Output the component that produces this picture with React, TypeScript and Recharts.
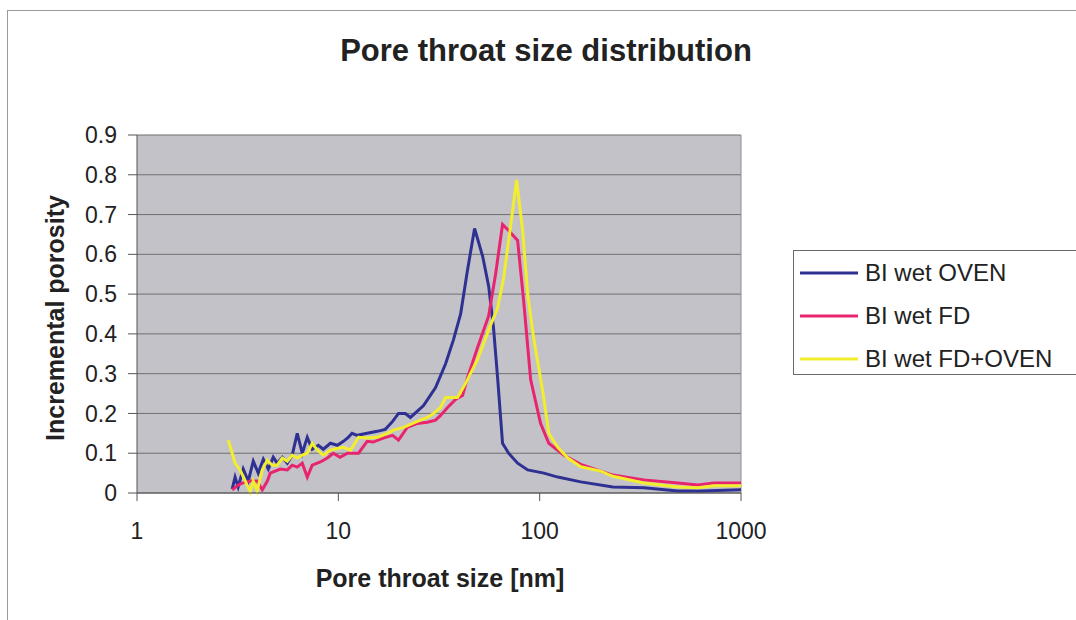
import { LineChart, Line, XAxis, YAxis, CartesianGrid, ReferenceLine } from 'recharts';

// pore throat size [nm] and incremental porosity, one pair of arrays per sample
const ovenSize = [
  2.97, 3.07, 3.18, 3.37, 3.57, 3.78, 4.0, 4.24, 4.49, 4.75, 4.97, 5.27, 5.58, 5.9, 6.25, 6.62, 7.01, 7.42,
  7.95, 8.42, 9.13, 9.89, 10.6, 11.2, 11.7, 12.4, 13.9, 15.6, 17.1, 18.6, 19.9, 21.5, 22.8, 26.5, 30.4,
  34.1, 37.3, 40.5, 43.8, 47.5, 52.1, 55.8, 59.0, 61.8, 65.4, 70.1, 77.7, 87.2, 105, 123, 160, 231, 329,
  486, 632, 1000,
];
const ovenPorosity = [
  0.01, 0.04, 0.015, 0.06, 0.03, 0.08, 0.05, 0.085, 0.06, 0.09, 0.075, 0.09, 0.075, 0.095, 0.15, 0.1, 0.14,
  0.11, 0.12, 0.11, 0.125, 0.12, 0.13, 0.14, 0.15, 0.145, 0.15, 0.155, 0.16, 0.18, 0.2, 0.2, 0.19, 0.22,
  0.265, 0.325, 0.385, 0.45, 0.56, 0.665, 0.595, 0.52, 0.415, 0.29, 0.125, 0.1, 0.075, 0.058, 0.05, 0.04,
  0.028, 0.015, 0.013, 0.005, 0.005, 0.008,
];

const fdSize = [
  2.97, 3.18, 3.33, 3.65, 3.95, 4.19, 4.44, 4.59, 5.15, 5.58, 5.9, 6.25, 6.62, 7.01, 7.42, 8.14, 8.82, 9.44,
  10.2, 11.1, 12.6, 13.9, 14.9, 16.7, 18.6, 19.9, 22.0, 24.7, 27.7, 30.4, 32.2, 34.9, 38.2, 41.4, 43.8,
  49.1, 55.8, 60.4, 65.4, 70.1, 77.7, 83.2, 90.2, 101, 111, 132, 160, 201, 231, 329, 486, 611, 734, 1000,
];
const fdPorosity = [
  0.008, 0.02, 0.025, 0.03, 0.03, 0.008, 0.03, 0.05, 0.06, 0.058, 0.07, 0.065, 0.075, 0.04, 0.07, 0.078,
  0.088, 0.1, 0.09, 0.1, 0.1, 0.13, 0.128, 0.138, 0.145, 0.133, 0.165, 0.175, 0.178, 0.183, 0.195, 0.215,
  0.235, 0.245, 0.29, 0.365, 0.445, 0.55, 0.675, 0.66, 0.635, 0.485, 0.285, 0.175, 0.125, 0.095, 0.072,
  0.055, 0.045, 0.033, 0.025, 0.02, 0.025, 0.025,
];

const fdOvenSize = [
  2.84, 2.97, 3.07, 3.25, 3.45, 3.65, 3.78, 3.95, 4.19, 4.44, 4.69, 4.97, 5.27, 5.58, 5.9, 6.25, 6.62, 7.01,
  7.42, 7.86, 8.42, 9.13, 9.89, 10.6, 11.5, 12.6, 13.9, 15.6, 17.5, 18.8, 21.1, 23.4, 25.6, 27.7, 29.7,
  32.2, 34.1, 39.1, 42.8, 49.1, 55.8, 61.8, 66.2, 71.7, 76.8, 82.3, 87.2, 93.3, 104, 111, 123, 138, 160,
  201, 231, 329, 486, 611, 734, 1000,
];
const fdOvenPorosity = [
  0.133, 0.1, 0.075, 0.058, 0.03, 0.003, 0.03, 0.005, 0.058, 0.083, 0.07, 0.07, 0.088, 0.08, 0.095, 0.088,
  0.095, 0.1, 0.125, 0.108, 0.095, 0.108, 0.112, 0.115, 0.108, 0.14, 0.138, 0.14, 0.15, 0.158, 0.165, 0.175,
  0.183, 0.19, 0.2, 0.215, 0.24, 0.24, 0.275, 0.335, 0.41, 0.465, 0.54, 0.67, 0.787, 0.66, 0.5, 0.39, 0.25,
  0.15, 0.115, 0.088, 0.066, 0.055, 0.042, 0.025, 0.015, 0.013, 0.018, 0.018,
];

const xTicks = [1, 10, 100, 1000];
const yTicks = [0, 0.1, 0.2, 0.3, 0.4, 0.5, 0.6, 0.7, 0.8, 0.9];

const zip = (xs: number[], ys: number[]) => xs.map((x, i) => ({ size: x, value: ys[i] }));

const series = [
  { name: 'BI wet OVEN', color: '#2f3192', data: zip(ovenSize, ovenPorosity) },
  { name: 'BI wet FD', color: '#e8246e', data: zip(fdSize, fdPorosity) },
  { name: 'BI wet FD+OVEN', color: '#f2ee2e', data: zip(fdOvenSize, fdOvenPorosity) },
];

const font = 'Arial, "Liberation Sans", sans-serif';

function ChartLegend() {
  return (
    <div
      style={{
        position: 'absolute', left: 793, top: 250, width: 300, height: 125,
        border: '1px solid #6a6a6a', background: '#fff', padding: '0 0 0 6px',
        fontFamily: font, fontSize: 24, color: '#222', boxSizing: 'border-box',
      }}
    >
      {series.map((s, i) => (
        <div
          key={s.name}
          style={{ position: 'absolute', left: 6, top: 22 + i * 43 - 14, display: 'flex', alignItems: 'center', height: 28 }}
        >
          <svg width={60} height={10} style={{ marginRight: 5 }}>
            <line x1={0} y1={5} x2={58} y2={5} stroke={s.color} strokeWidth={3} />
          </svg>
          <span style={{ whiteSpace: 'nowrap' }}>{s.name}</span>
        </div>
      ))}
    </div>
  );
}

export default function App() {
  return (
    <div style={{ position: 'absolute', left: 0, top: 0, width: 1076, height: 620, background: '#fff', overflow: 'hidden' }}>
      <div style={{ position: 'absolute', left: 7, top: 10, width: 1200, height: 800, border: '1px solid #9a9a9a' }} />
      <div
        style={{
          position: 'absolute', left: 0, width: 1092, top: 33, textAlign: 'center',
          fontFamily: font, fontWeight: 'bold', fontSize: 31, color: '#222',
        }}
      >
        Pore throat size distribution
      </div>
      <div
        style={{
          position: 'absolute', left: 440, top: 578, transform: 'translate(-50%, -50%)', whiteSpace: 'nowrap',
          fontFamily: font, fontWeight: 'bold', fontSize: 25, color: '#222',
        }}
      >
        Pore throat size [nm]
      </div>
      <div
        style={{
          position: 'absolute', left: 55, top: 318, transform: 'translate(-50%, -50%) rotate(-90deg)', whiteSpace: 'nowrap',
          fontFamily: font, fontWeight: 'bold', fontSize: 25, color: '#222',
        }}
      >
        Incremental porosity
      </div>
      <div style={{ position: 'absolute', left: 0, top: 0 }}>
        <LineChart width={1076} height={620} margin={{ top: 135, right: 335, bottom: 77, left: 0 }}>
          <CartesianGrid fill="#c3c2c9" stroke="#707070" vertical={false} />
          <XAxis
            dataKey="size"
            type="number"
            scale="log"
            domain={[1, 1000]}
            ticks={xTicks}
            interval={0}
            allowDataOverflow
            height={50}
            tickSize={8}
            tickMargin={22}
            stroke="#555"
            tick={{ fontSize: 23, fill: '#222', fontFamily: font }}
          />
          <YAxis
            type="number"
            domain={[0, 0.9]}
            ticks={yTicks}
            interval={0}
            width={137}
            tickSize={9}
            tickMargin={11}
            stroke="#555"
            tick={{ fontSize: 23, fill: '#222', fontFamily: font }}
          />
          <ReferenceLine x={1000} stroke="#8c8c8c" />
          {series.map((s) => (
            <Line
              key={s.name}
              data={s.data}
              dataKey="value"
              name={s.name}
              type="linear"
              stroke={s.color}
              strokeWidth={3}
              dot={false}
              isAnimationActive={false}
            />
          ))}
        </LineChart>
      </div>
      <ChartLegend />
    </div>
  );
}
